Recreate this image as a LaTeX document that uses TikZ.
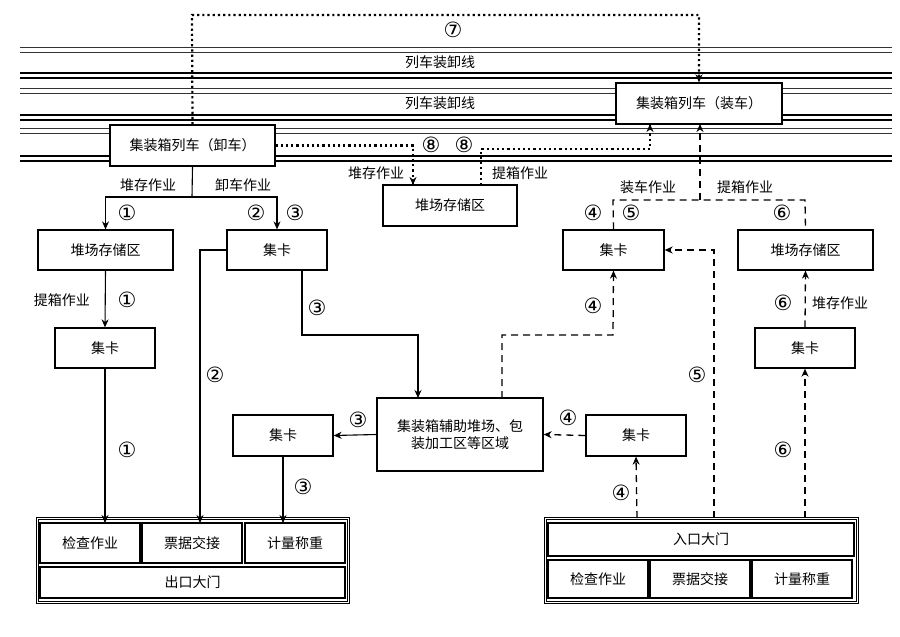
\documentclass[tikz,border=0pt]{standalone}
\usepackage{fontspec}
\setmainfont{Noto Sans CJK SC}
\newfontfamily\circf{DejaVu Sans}
\usetikzlibrary{arrows.meta}
\newcommand{\cn}[1]{{\circf\fontsize{21}{21}\selectfont #1}}
\begin{document}
\begin{tikzpicture}[x=1pt,y=-1pt,font=\fontsize{14}{17}\selectfont,line width=1.1pt,
 box/.style={draw,line width=1.3pt,fill=white,inner sep=0},
 lbl/.style={inner sep=1pt},
 arr/.style={-{Stealth[length=8pt,width=7pt]}},
 dsh/.style={line width=1.3pt,dash pattern=on 7pt off 5pt},
 dot/.style={line width=2.2pt,dash pattern=on 2.2pt off 3pt}]
\useasboundingbox (0,0) rectangle (900,637);
% rails
\foreach \y in {47,52,88,93,128,133}{\draw[line width=1pt,black!80] (20,\y)--(892,\y);}
\foreach \y in {73,78,115,120,156,161}{\draw[line width=1.5pt] (20,\y)--(892,\y);}
\node[lbl,fill=white] (r1) at (440,62) {列车装卸线};
\node[lbl,fill=white] (r2) at (440,103) {列车装卸线};
% boxes
\node[box,minimum width=166pt,minimum height=41pt] (load) at (699,103.5) {集装箱列车（装车）};
\node[box,minimum width=165pt,minimum height=41pt] (unl) at (192.5,145.5) {集装箱列车（卸车）};
\node[box,minimum width=134pt,minimum height=41pt] (ymid) at (450,205.5) {堆场存储区};
\node[box,minimum width=135pt,minimum height=40pt] (yl) at (105.5,250) {堆场存储区};
\node[box,minimum width=100pt,minimum height=40pt] (t2) at (277,250) {集卡};
\node[box,minimum width=100pt,minimum height=40pt] (t1) at (105,348) {集卡};
\node[box,minimum width=166pt,minimum height=73pt,align=center] (c) at (460,434.5) {集装箱辅助堆场、包\\装加工区等区域};
\node[box,minimum width=100pt,minimum height=41pt] (t3) at (283,435.5) {集卡};
\node[box,minimum width=100pt,minimum height=41pt] (t4) at (636,435.5) {集卡};
\node[box,minimum width=101pt,minimum height=40pt] (t5) at (613.5,250) {集卡};
\node[box,minimum width=135pt,minimum height=40pt] (yr) at (805.5,250) {堆场存储区};
\node[box,minimum width=100pt,minimum height=40pt] (t6) at (805,348) {集卡};
% exit gate
\draw[line width=1.2pt,double] (37,518) rectangle (348,602);
\node[box,minimum width=100pt,minimum height=40pt] (e1) at (90,543) {检查作业};
\node[box,minimum width=100pt,minimum height=40pt] (e2) at (192,543) {票据交接};
\node[box,minimum width=100pt,minimum height=40pt] (e3) at (295,543) {计量称重};
\node[box,minimum width=305pt,minimum height=31pt] (eg) at (192.5,582.5) {出口大门};
% entrance gate
\draw[line width=1.2pt,double] (545,518) rectangle (857,602);
\node[box,minimum width=306pt,minimum height=33pt] (ig) at (701,539.5) {入口大门};
\node[box,minimum width=100pt,minimum height=38pt] (i1) at (598,579) {检查作业};
\node[box,minimum width=100pt,minimum height=38pt] (i2) at (700,579) {票据交接};
\node[box,minimum width=100pt,minimum height=38pt] (i3) at (802,579) {计量称重};
% dotted flows
\draw[dot,arr] (unl.north) -- (192,15) -| (load.north);
\node[lbl] (n7) at (453,30) {\cn{⑦}};
\draw[dot,arr] (unl.east) -| (ymid.north -| 413,0) -- (413,185);
\node[lbl] (n8a) at (431,145) {\cn{⑧}};
\node[lbl] (n8b) at (464,145) {\cn{⑧}};
\draw[dot,arr] (481,185) -- (481,149) -| (load.south -| 650,0) -- (650,124);
\node[lbl] (lb1) at (376,173) {堆存作业};
\node[lbl] (lb2) at (520,173) {提箱作业};
% left flows
\coordinate (s) at (192,197);
\draw (unl.south) -- (s);
\draw[arr] (s) -| (yl.north);
\draw[arr] (s) -| (t2.north);
\node[lbl] (lb3) at (148,185) {堆存作业};
\node[lbl] (lb4) at (243,185) {卸车作业};
\node[lbl] (a1) at (127,213) {\cn{①}};
\node[lbl] (a2) at (256,213) {\cn{②}};
\node[lbl] (a3) at (295,213) {\cn{③}};
\draw[arr] (yl.south) -- (t1.north);
\node[lbl] (lb5) at (62,300) {提箱作业};
\node[lbl] (a4) at (127,300) {\cn{①}};
\draw[arr] (t1.south) -- (105,523);
\node[lbl] (a5) at (127,450) {\cn{①}};
\draw[arr] (t2.west) -- (200,250) -- (200,523);
\node[lbl] (a6) at (215,375) {\cn{②}};
\draw[arr] (302,270) -- (302,335) -- (418,335) -- (418,398);
\node[lbl] (a7) at (317,308) {\cn{③}};
\draw[arr] (c.west) -- (t3.east);
\node[lbl] (a8) at (358,420) {\cn{③}};
\draw[arr] (t3.south) -- (283,523);
\node[lbl] (a9) at (303,487) {\cn{③}};
% right flows (dashed)
\draw[dsh,arr] (t4.west) -- (c.east);
\node[lbl] (b1) at (568,418) {\cn{④}};
\draw[dsh,arr] (637,518) -- (t4.south);
\node[lbl] (b2) at (621,493) {\cn{④}};
\draw[dsh,arr] (502,398) -- (502,335) -- (613,335) -- (t5.south);
\node[lbl] (b3) at (593,306) {\cn{④}};
\draw[dsh] (t5.north) -- (613,200) -- (805,200) -- (yr.north);
\draw[dsh,arr] (700,200) -- (700,124);
\node[lbl] (lb6) at (648,187) {装车作业};
\node[lbl] (lb7) at (745,187) {提箱作业};
\node[lbl] (b4) at (593,213) {\cn{④}};
\node[lbl] (b5) at (631,213) {\cn{⑤}};
\node[lbl] (b6) at (782,213) {\cn{⑥}};
\draw[dsh,arr] (714,518) -- (714,250) -- (t5.east);
\node[lbl] (b7) at (697,375) {\cn{⑤}};
\draw[dsh,arr] (t6.north) -- (yr.south);
\node[lbl] (b8) at (783,303) {\cn{⑥}};
\node[lbl] (lb8) at (840,303) {堆存作业};
\draw[dsh,arr] (805,518) -- (t6.south);
\node[lbl] (b9) at (783,450) {\cn{⑥}};
\end{tikzpicture}
\end{document}
